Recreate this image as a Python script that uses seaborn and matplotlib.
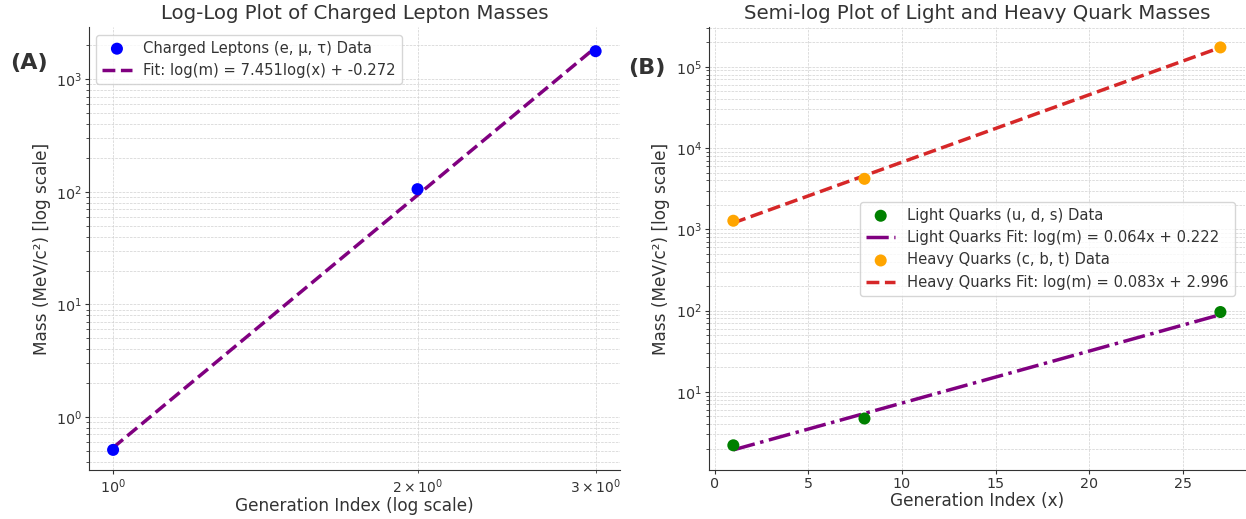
"""
plot.py - lepton and quark mass scaling, two panels
"""
import numpy as np
import pandas as pd
import seaborn as sns
import matplotlib.pyplot as plt

# charged leptons (e, mu, tau)
lepton_gen = [1, 2, 3]
lepton_mass = [0.511, 105.7, 1777.0]
lepton_fit = (7.451, -0.272)  # slope, intercept in log10 space

# quarks, generation index x
quark_gen = [1, 8, 27]
light_mass = [2.2, 4.7, 96.0]     # u, d, s
heavy_mass = [1275.0, 4180.0, 173000.0]  # c, b, t
light_fit = (0.064, 0.222)
heavy_fit = (0.083, 2.996)

sns.set_style("whitegrid", {"axes.edgecolor": "0.2", "xtick.bottom": True, "ytick.left": True,
                            "grid.color": "0.85"})
plt.rcParams["font.family"] = ["DejaVu Sans"]
plt.rcParams["text.color"] = "0.2"
plt.rcParams["axes.labelcolor"] = "0.2"
plt.rcParams["xtick.color"] = "0.2"
plt.rcParams["ytick.color"] = "0.2"

fig = plt.figure(figsize=(12.46, 5.19), dpi=100)
ax1 = fig.add_axes([0.0714, 0.0944, 0.426, 0.853])
ax2 = fig.add_axes([0.569, 0.0944, 0.430, 0.853])

# ---- (A) leptons, log-log
lep = pd.DataFrame({"x": lepton_gen, "m": lepton_mass})
lep["fit"] = 10 ** (lepton_fit[0] * np.log10(lep["x"]) + lepton_fit[1])
ax1.set_xscale("log")
ax1.set_yscale("log")
sns.scatterplot(data=lep, x="x", y="m", ax=ax1, color="blue", s=75, edgecolor="none", zorder=3,
                label="Charged Leptons (e, \u03bc, \u03c4) Data")
sns.lineplot(data=lep, x="x", y="fit", ax=ax1, color="purple", lw=2.5, linestyle="--", zorder=2,
             label=f"Fit: log(m) = {lepton_fit[0]}log(x) + {lepton_fit[1]}")
ax1.set_title("Log-Log Plot of Charged Lepton Masses", fontsize=14.2)
ax1.set_xlabel("Generation Index (log scale)", fontsize=12.2, labelpad=1)
ax1.set_ylabel("Mass (MeV/c\u00b2) [log scale]", fontsize=12.2)
ax1.legend(loc="upper left", fontsize=10.6, frameon=True)

# ---- (B) quarks, semi-log
q = pd.DataFrame({"x": quark_gen, "light": light_mass, "heavy": heavy_mass})
q["light_fit"] = 10 ** (light_fit[0] * q["x"] + light_fit[1])
q["heavy_fit"] = 10 ** (heavy_fit[0] * q["x"] + heavy_fit[1])
ax2.set_yscale("log")
sns.scatterplot(data=q, x="x", y="light", ax=ax2, color="green", s=75, edgecolor="none", zorder=3,
                label="Light Quarks (u, d, s) Data")
sns.lineplot(data=q, x="x", y="light_fit", ax=ax2, color="purple", lw=2.5, linestyle="-.", zorder=2,
             label=f"Light Quarks Fit: log(m) = {light_fit[0]}x + {light_fit[1]}")
sns.scatterplot(data=q, x="x", y="heavy", ax=ax2, color="orange", s=75, edgecolor="none", zorder=3,
                label="Heavy Quarks (c, b, t) Data")
sns.lineplot(data=q, x="x", y="heavy_fit", ax=ax2, color="#d62728", lw=2.5, linestyle="--", zorder=2,
             label=f"Heavy Quarks Fit: log(m) = {heavy_fit[0]}x + {heavy_fit[1]}")
ax2.set_title("Semi-log Plot of Light and Heavy Quark Masses", fontsize=14.2)
ax2.set_xlabel("Generation Index (x)", fontsize=12.2, labelpad=1)
ax2.set_ylabel("Mass (MeV/c\u00b2) [log scale]", fontsize=12.2)
ax2.set_xticks([0, 5, 10, 15, 20, 25])
ax2.legend(loc="center right", fontsize=10.6, frameon=True, bbox_to_anchor=(0.995, 0.5))

for ax in (ax1, ax2):
    ax.grid(True, which="both", linestyle="--", linewidth=0.5, color="0.82")
    ax.tick_params(labelsize=10.3, length=3, pad=2)
    sns.despine(ax=ax)

fig.text(0.008, 0.878, "(A)", fontsize=16, fontweight="bold", va="center")
fig.text(0.504, 0.869, "(B)", fontsize=16, fontweight="bold", va="center")

plt.savefig("out.png", dpi=100)
